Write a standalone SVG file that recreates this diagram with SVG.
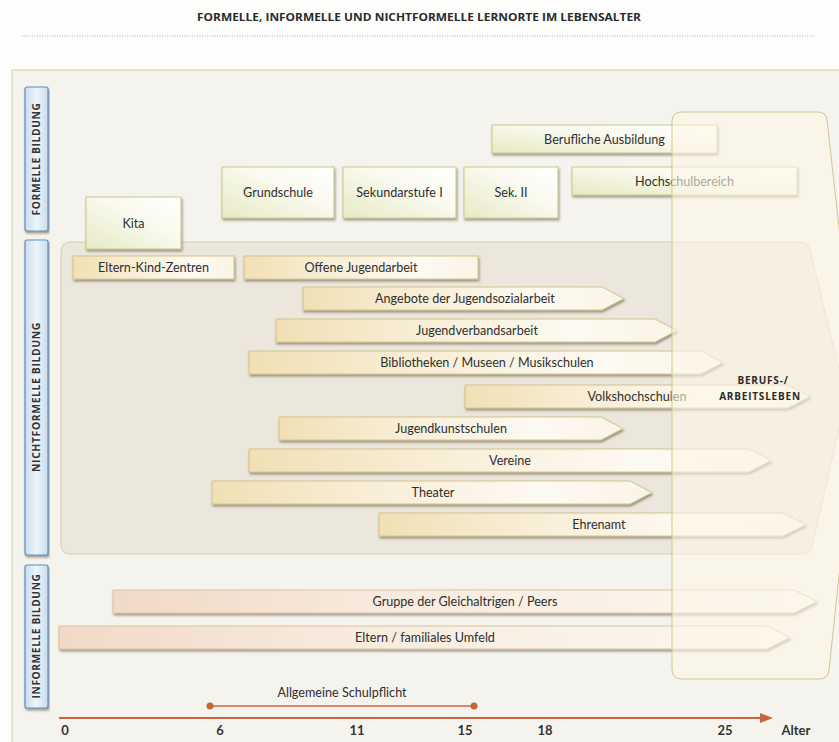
<svg xmlns="http://www.w3.org/2000/svg" width="839" height="742" viewBox="0 0 839 742">
<defs>
<style>
.t{font-family:Lato,"Noto Sans","Liberation Sans",sans-serif;font-size:12.6px;fill:#2f2f2f;text-anchor:middle}
.lab{font-family:"Open Sans","Noto Sans","Liberation Sans",sans-serif;font-size:10px;font-weight:bold;fill:#333;text-anchor:middle;letter-spacing:0.6px}
.bt{font-family:"Open Sans","Noto Sans","Liberation Sans",sans-serif;font-size:10px;font-weight:bold;fill:#2b2b2b;text-anchor:middle;letter-spacing:0.8px}
.ax{font-family:Lato,"Noto Sans","Liberation Sans",sans-serif;font-size:13px;font-weight:bold;fill:#333;text-anchor:middle}
.fb{fill:url(#gF);stroke:#c6c98a;stroke-width:1;filter:url(#sh)}
.nb{fill:url(#gN);stroke:#d6c28e;stroke-width:1;filter:url(#sh)}
.ib{fill:url(#gI);stroke:#d9c3a0;stroke-width:1;filter:url(#sh)}
.bl{fill:url(#gB);stroke:#5f90ba;stroke-width:1.2;filter:url(#sh)}
</style>
<linearGradient id="gF" x1="0" y1="1" x2="1" y2="0"><stop offset="0" stop-color="#e7eac4"/><stop offset="0.6" stop-color="#fafaf0"/><stop offset="1" stop-color="#ffffff"/></linearGradient>
<linearGradient id="gN" x1="0" y1="0" x2="1" y2="0"><stop offset="0" stop-color="#f1e0b4"/><stop offset="0.35" stop-color="#f8eed6"/><stop offset="0.75" stop-color="#fdfaf2"/><stop offset="1" stop-color="#faf4e6"/></linearGradient>
<linearGradient id="gI" x1="0" y1="0" x2="1" y2="0"><stop offset="0" stop-color="#f1d9c6"/><stop offset="0.4" stop-color="#f8ebde"/><stop offset="1" stop-color="#fcf8f2"/></linearGradient>
<linearGradient id="gB" x1="0" y1="0" x2="1" y2="0"><stop offset="0" stop-color="#c9dced"/><stop offset="0.5" stop-color="#eef5fb"/><stop offset="1" stop-color="#c9dced"/></linearGradient>
<filter id="sh" x="-5%" y="-30%" width="110%" height="180%"><feDropShadow dx="1" dy="2" stdDeviation="1.2" flood-color="#4a3c24" flood-opacity="0.5"/></filter>
</defs>
<rect width="839" height="742" fill="#fdfdfc"/>
<text x="197" y="21" textLength="444" lengthAdjust="spacingAndGlyphs" font-family="'Open Sans','Noto Sans',sans-serif" font-size="11" font-weight="bold" fill="#2b2b2b">FORMELLE, INFORMELLE UND NICHTFORMELLE LERNORTE IM LEBENSALTER</text>
<line x1="22" y1="36" x2="815" y2="36" stroke="#aaa" stroke-width="1" stroke-dasharray="1,1.5"/>
<rect id="panel" x="12" y="70" width="840" height="690" fill="#f5f3ee" stroke="#d9cca6" stroke-width="1"/>

<g id="label-formell"><rect class="bl" x="25" y="87" width="23" height="144" rx="2"/><text class="lab" transform="translate(40,159) rotate(-90)" textLength="113" lengthAdjust="spacingAndGlyphs">FORMELLE BILDUNG</text></g>
<g id="label-nichtformell"><rect class="bl" x="25" y="240" width="23" height="315" rx="2"/><text class="lab" transform="translate(40,397) rotate(-90)" textLength="150" lengthAdjust="spacingAndGlyphs">NICHTFORMELLE BILDUNG</text></g>
<g id="label-informell"><rect class="bl" x="25" y="565" width="23" height="143" rx="2"/><text class="lab" transform="translate(40,636) rotate(-90)" textLength="125" lengthAdjust="spacingAndGlyphs">INFORMELLE BILDUNG</text></g>

<path id="nichtformell-panel" d="M71,242 H800 Q808,242 810,250 L846,398 L812,546 Q810,554 802,554 H71 Q61,554 61,544 V252 Q61,242 71,242 Z" fill="#ece7dd" stroke="#d8cca8" stroke-width="1"/>

<g id="kita"><rect class="fb" x="86" y="197" width="95" height="52"/><text class="t" x="133.5" y="228">Kita</text></g>
<g id="grundschule"><rect class="fb" x="222" y="167" width="112" height="51"/><text class="t" x="278" y="197">Grundschule</text></g>
<g id="sek1"><rect class="fb" x="343" y="167" width="113" height="51"/><text class="t" x="399.5" y="197">Sekundarstufe I</text></g>
<g id="sek2"><rect class="fb" x="464" y="167" width="94" height="51"/><text class="t" x="511" y="197">Sek. II</text></g>
<g id="berufliche"><rect class="fb" x="492" y="125" width="225" height="28"/><text class="t" x="604.5" y="143.5">Berufliche Ausbildung</text></g>
<g id="hochschul"><rect class="fb" x="572" y="167" width="225" height="28"/><text class="t" x="684.5" y="185.5">Hochschulbereich</text></g>

<g id="ekz"><rect class="nb" x="73" y="256" width="161" height="23"/><text class="t" x="153.5" y="272">Eltern-Kind-Zentren</text></g>
<g id="offene"><rect class="nb" x="244" y="256" width="234" height="23"/><text class="t" x="361" y="272">Offene Jugendarbeit</text></g>
<g id="jsa"><path class="nb" d="M303,287 H602 L624,298.5 L602,310 H303 Z"/><text class="t" x="465" y="303">Angebote der Jugendsozialarbeit</text></g>
<g id="jva"><path class="nb" d="M276,319 H655 L677,330.5 L655,342 H276 Z"/><text class="t" x="477" y="335">Jugendverbandsarbeit</text></g>
<g id="bib"><path class="nb" d="M249,351 H701 L723,362.5 L701,374 H249 Z"/><text class="t" x="487" y="367">Bibliotheken / Museen / Musikschulen</text></g>
<g id="vhs"><path class="nb" d="M465,385 H788 L810,396.5 L788,408 H465 Z"/><text class="t" x="637" y="401">Volkshochschulen</text></g>
<g id="jks"><path class="nb" d="M279,417 H601 L623,428.5 L601,440 H279 Z"/><text class="t" x="451" y="433">Jugendkunstschulen</text></g>
<g id="vereine"><path class="nb" d="M249,449 H749 L771,460.5 L749,472 H249 Z"/><text class="t" x="510" y="465">Vereine</text></g>
<g id="theater"><path class="nb" d="M212,481 H630 L652,492.5 L630,504 H212 Z"/><text class="t" x="433" y="497">Theater</text></g>
<g id="ehrenamt"><path class="nb" d="M379,513 H783 L806,524.5 L783,536 H379 Z"/><text class="t" x="599" y="529">Ehrenamt</text></g>

<g id="peers"><path class="ib" d="M113,590 H794 L817,601.5 L794,613 H113 Z"/><text class="t" x="465" y="606">Gruppe der Gleichaltrigen / Peers</text></g>
<g id="eltern"><path class="ib" d="M59,626 H767 L790,637.5 L767,649 H59 Z"/><text class="t" x="425" y="642">Eltern / familiales Umfeld</text></g>

<g id="berufsleben">
<path d="M682,112 H818 Q826,112 827,120 L858,398 L829,670 Q828,679 819,679 H682 Q672,679 672,669 V122 Q672,112 682,112 Z" fill="#fbf6e6" fill-opacity="0.6" stroke="#d6c391" stroke-width="1"/>
<text class="bt" x="763" y="384">BERUFS-/</text>
<text class="bt" x="760" y="400">ARBEITSLEBEN</text>
</g>

<g id="connectors">
<line x1="210" y1="706" x2="474" y2="706" stroke="#c8643c" stroke-width="1.5"/>
<circle cx="210" cy="706" r="3.5" fill="#c8643c"/>
<circle cx="474" cy="706" r="3.5" fill="#c8643c"/>
<line x1="59" y1="718" x2="763" y2="718" stroke="#c8643c" stroke-width="1.8"/>
<polygon points="760,713 773,718 760,723" fill="#c8643c"/>
</g>
<g id="axis-labels">
<text class="t" x="342" y="697">Allgemeine Schulpflicht</text>
<text class="ax" x="65" y="735">0</text>
<text class="ax" x="220" y="735">6</text>
<text class="ax" x="357" y="735">11</text>
<text class="ax" x="465" y="735">15</text>
<text class="ax" x="545" y="735">18</text>
<text class="ax" x="725" y="735">25</text>
<text class="ax" x="796" y="735">Alter</text>
</g>
</svg>
